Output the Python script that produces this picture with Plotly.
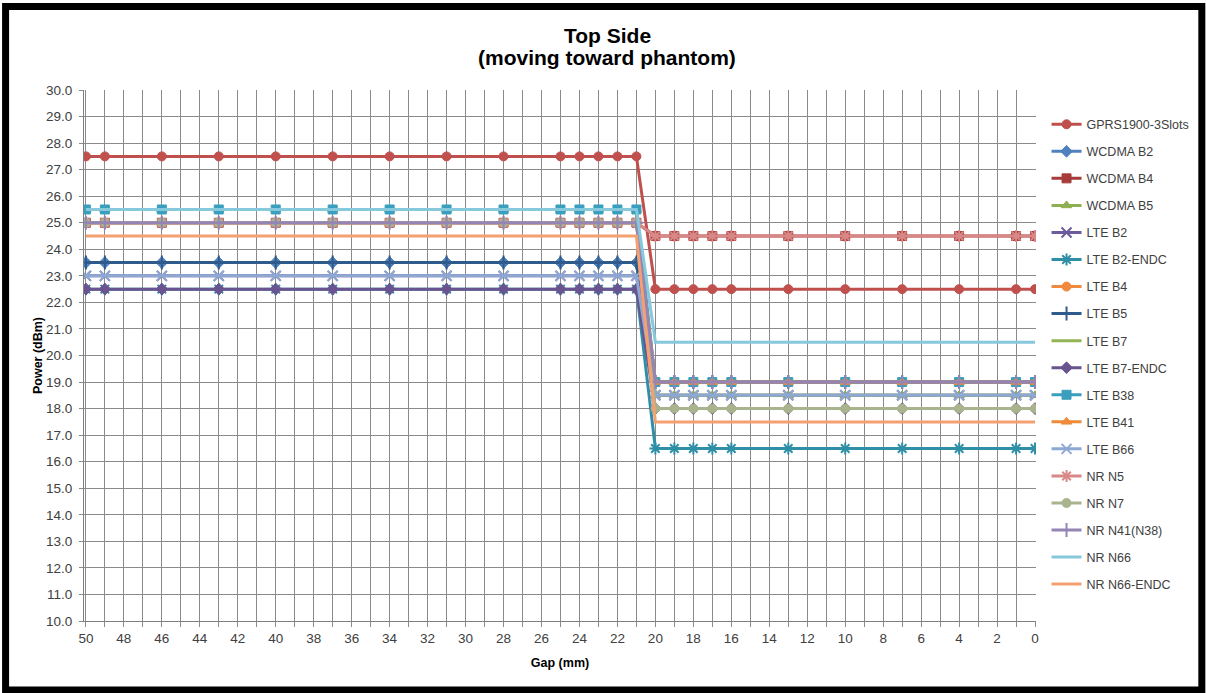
import plotly.graph_objects as go

# Gap positions (mm)
gap_mm = [50, 49, 46, 43, 40, 37, 34, 31, 28, 25, 24, 23, 22, 21,
          20, 19, 18, 17, 16, 13, 10, 7, 4, 1, 0]

series_names = ["GPRS1900-3Slots", "WCDMA B2", "WCDMA B4", "WCDMA B5", "LTE B2",
                "LTE B2-ENDC", "LTE B4", "LTE B5", "LTE B7", "LTE B7-ENDC",
                "LTE B38", "LTE B41", "LTE B66", "NR N5", "NR N7",
                "NR N41(N38)", "NR N66", "NR N66-ENDC"]

gprs1900 = [27.5, 27.5, 27.5, 27.5, 27.5, 27.5, 27.5, 27.5, 27.5, 27.5, 27.5, 27.5, 27.5, 27.5,
            22.5, 22.5, 22.5, 22.5, 22.5, 22.5, 22.5, 22.5, 22.5, 22.5, 22.5]
wcdma_b2 = [23.5, 23.5, 23.5, 23.5, 23.5, 23.5, 23.5, 23.5, 23.5, 23.5, 23.5, 23.5, 23.5, 23.5,
            19.0, 19.0, 19.0, 19.0, 19.0, 19.0, 19.0, 19.0, 19.0, 19.0, 19.0]
wcdma_b4 = [25.0, 25.0, 25.0, 25.0, 25.0, 25.0, 25.0, 25.0, 25.0, 25.0, 25.0, 25.0, 25.0, 25.0,
            24.5, 24.5, 24.5, 24.5, 24.5, 24.5, 24.5, 24.5, 24.5, 24.5, 24.5]
wcdma_b5 = [25.5, 25.5, 25.5, 25.5, 25.5, 25.5, 25.5, 25.5, 25.5, 25.5, 25.5, 25.5, 25.5, 25.5,
            18.5, 18.5, 18.5, 18.5, 18.5, 18.5, 18.5, 18.5, 18.5, 18.5, 18.5]
lte_b2 = [23.0, 23.0, 23.0, 23.0, 23.0, 23.0, 23.0, 23.0, 23.0, 23.0, 23.0, 23.0, 23.0, 23.0,
          18.5, 18.5, 18.5, 18.5, 18.5, 18.5, 18.5, 18.5, 18.5, 18.5, 18.5]
lte_b2_endc = [22.5, 22.5, 22.5, 22.5, 22.5, 22.5, 22.5, 22.5, 22.5, 22.5, 22.5, 22.5, 22.5, 22.5,
               16.5, 16.5, 16.5, 16.5, 16.5, 16.5, 16.5, 16.5, 16.5, 16.5, 16.5]
lte_b4 = [25.0, 25.0, 25.0, 25.0, 25.0, 25.0, 25.0, 25.0, 25.0, 25.0, 25.0, 25.0, 25.0, 25.0,
          19.0, 19.0, 19.0, 19.0, 19.0, 19.0, 19.0, 19.0, 19.0, 19.0, 19.0]
lte_b5 = [23.5, 23.5, 23.5, 23.5, 23.5, 23.5, 23.5, 23.5, 23.5, 23.5, 23.5, 23.5, 23.5, 23.5,
          19.0, 19.0, 19.0, 19.0, 19.0, 19.0, 19.0, 19.0, 19.0, 19.0, 19.0]
lte_b7 = [25.5, 25.5, 25.5, 25.5, 25.5, 25.5, 25.5, 25.5, 25.5, 25.5, 25.5, 25.5, 25.5, 25.5,
          18.5, 18.5, 18.5, 18.5, 18.5, 18.5, 18.5, 18.5, 18.5, 18.5, 18.5]
lte_b7_endc = [22.5, 22.5, 22.5, 22.5, 22.5, 22.5, 22.5, 22.5, 22.5, 22.5, 22.5, 22.5, 22.5, 22.5,
               18.0, 18.0, 18.0, 18.0, 18.0, 18.0, 18.0, 18.0, 18.0, 18.0, 18.0]
lte_b38 = [25.5, 25.5, 25.5, 25.5, 25.5, 25.5, 25.5, 25.5, 25.5, 25.5, 25.5, 25.5, 25.5, 25.5,
           19.0, 19.0, 19.0, 19.0, 19.0, 19.0, 19.0, 19.0, 19.0, 19.0, 19.0]
lte_b41 = [25.0, 25.0, 25.0, 25.0, 25.0, 25.0, 25.0, 25.0, 25.0, 25.0, 25.0, 25.0, 25.0, 25.0,
           19.0, 19.0, 19.0, 19.0, 19.0, 19.0, 19.0, 19.0, 19.0, 19.0, 19.0]
lte_b66 = [23.0, 23.0, 23.0, 23.0, 23.0, 23.0, 23.0, 23.0, 23.0, 23.0, 23.0, 23.0, 23.0, 23.0,
           18.5, 18.5, 18.5, 18.5, 18.5, 18.5, 18.5, 18.5, 18.5, 18.5, 18.5]
nr_n5 = [25.0, 25.0, 25.0, 25.0, 25.0, 25.0, 25.0, 25.0, 25.0, 25.0, 25.0, 25.0, 25.0, 25.0,
         24.5, 24.5, 24.5, 24.5, 24.5, 24.5, 24.5, 24.5, 24.5, 24.5, 24.5]
nr_n7 = [25.0, 25.0, 25.0, 25.0, 25.0, 25.0, 25.0, 25.0, 25.0, 25.0, 25.0, 25.0, 25.0, 25.0,
         18.0, 18.0, 18.0, 18.0, 18.0, 18.0, 18.0, 18.0, 18.0, 18.0, 18.0]
nr_n41 = [25.0, 25.0, 25.0, 25.0, 25.0, 25.0, 25.0, 25.0, 25.0, 25.0, 25.0, 25.0, 25.0, 25.0,
          19.0, 19.0, 19.0, 19.0, 19.0, 19.0, 19.0, 19.0, 19.0, 19.0, 19.0]
nr_n66 = [25.5, 25.5, 25.5, 25.5, 25.5, 25.5, 25.5, 25.5, 25.5, 25.5, 25.5, 25.5, 25.5, 25.5,
          20.5, 20.5, 20.5, 20.5, 20.5, 20.5, 20.5, 20.5, 20.5, 20.5, 20.5]
nr_n66_endc = [24.5, 24.5, 24.5, 24.5, 24.5, 24.5, 24.5, 24.5, 24.5, 24.5, 24.5, 24.5, 24.5, 24.5,
               17.5, 17.5, 17.5, 17.5, 17.5, 17.5, 17.5, 17.5, 17.5, 17.5, 17.5]

series_values = [gprs1900, wcdma_b2, wcdma_b4, wcdma_b5, lte_b2, lte_b2_endc, lte_b4,
                 lte_b5, lte_b7, lte_b7_endc, lte_b38, lte_b41, lte_b66, nr_n5, nr_n7,
                 nr_n41, nr_n66, nr_n66_endc]

title_lines = ["Top Side", "(moving toward phantom)"]

colors = ["#C0504D", "#4F81BD", "#A63C3A", "#8FB050", "#6E5A9E", "#2F8FA6",
          "#F08A3E", "#2F5A8C", "#93B553", "#6A5490", "#3A9FBF", "#EE8A3A",
          "#8EA8D4", "#D88886", "#A9B48E", "#9585B5", "#86C8DC", "#F5A070"]
symbols = ["circle", "diamond", "square", "triangle-up", "x-thin-open", "asterisk-open",
           "circle", "cross-thin-open", None, "diamond", "square", "triangle-up",
           "x-thin-open", "asterisk-open", "circle", "cross-thin-open", None, None]

tick_vals = [50, 48, 46, 44, 42, 40, 38, 36, 34, 32, 30, 28, 26, 24, 22, 20, 18, 16, 14, 12, 10, 8, 6, 4, 2, 0]
y_ticks = [10.0, 11.0, 12.0, 13.0, 14.0, 15.0, 16.0, 17.0, 18.0, 19.0, 20.0,
           21.0, 22.0, 23.0, 24.0, 25.0, 26.0, 27.0, 28.0, 29.0, 30.0]

fig = go.Figure()
for i, (name, vals) in enumerate(zip(series_names, series_values)):
    sym = symbols[i]
    if sym is None:
        mode = "lines"
        marker = None
    else:
        mode = "lines+markers"
        if "open" in sym:
            marker = dict(symbol=sym, size=10, color=colors[i], line=dict(color=colors[i], width=2))
        else:
            marker = dict(symbol=sym, size=9, color=colors[i], line=dict(color=colors[i], width=1))
    fig.add_trace(go.Scatter(
        x=gap_mm, y=vals, name=name, mode=mode,
        line=dict(color=colors[i], width=3),
        marker=marker, legendgroup=name,
    ))

# plot area geometry (px): left 84, top 90, width 953, height 531
pw, ph = 953.0, 531.0
def px_x(p):
    return (p - 84) / pw
def px_y(p):
    return (621 - p) / ph

grid_c = "#8A8A8A"
fig.update_layout(
    width=1206, height=693,
    margin=dict(l=84, r=169, t=90, b=72),
    paper_bgcolor="white", plot_bgcolor="white",
    font=dict(family="Liberation Sans, Arial, sans-serif", size=12, color="#404040"),
    showlegend=True,
    legend=dict(x=1.01, xanchor="left", y=0.963, yanchor="top",
                font=dict(size=12.5, color="#404040"), tracegroupgap=7.8,
                bgcolor="rgba(0,0,0,0)"),
    xaxis=dict(range=[50.1, -0.05], tickmode="array", tickvals=tick_vals,
               ticktext=[str(v) for v in tick_vals],
               showgrid=True, gridcolor=grid_c, gridwidth=1,
               ticks="outside", ticklen=5, tickcolor=grid_c,
               minor=dict(dtick=1, tick0=0, showgrid=True, gridcolor=grid_c, gridwidth=1,
                          ticks="outside", ticklen=5, tickcolor=grid_c),
               showline=True, linecolor="#808080", linewidth=1,
               tickfont=dict(size=13.5, color="#404040"),
               title=dict(text="<b>Gap (mm)</b>", font=dict(size=12.5, color="#000000"), standoff=13),
               zeroline=False),
    yaxis=dict(range=[10, 30], tickmode="array", tickvals=y_ticks,
               ticktext=["%.1f" % v for v in y_ticks],
               showgrid=True, gridcolor=grid_c, gridwidth=1,
               ticks="outside", ticklen=4, tickcolor=grid_c, ticklabelstandoff=4,
               showline=True, linecolor="#808080", linewidth=1,
               tickfont=dict(size=13.5, color="#404040"),
               title=dict(text="<b>Power (dBm)</b>", font=dict(size=12.5, color="#000000"), standoff=0),
               zeroline=False),
)

# two-line title
for txt, py in zip(title_lines, [35, 57]):
    fig.add_annotation(text="<b>%s</b>" % txt, xref="paper", yref="paper",
                       x=px_x(608), y=px_y(py), xanchor="center", yanchor="middle",
                       showarrow=False, font=dict(size=21, color="#000000"))

# black frame around the whole picture
fig.add_shape(type="rect", xref="paper", yref="paper",
              x0=px_x(5.5), x1=px_x(1203), y0=px_y(690), y1=px_y(6.5),
              line=dict(color="black", width=7), fillcolor="rgba(0,0,0,0)", layer="above")

fig.write_html("out.html", config={"displayModeBar": False},
               post_script="document.body.style.margin='0';document.body.style.overflow='hidden';")
